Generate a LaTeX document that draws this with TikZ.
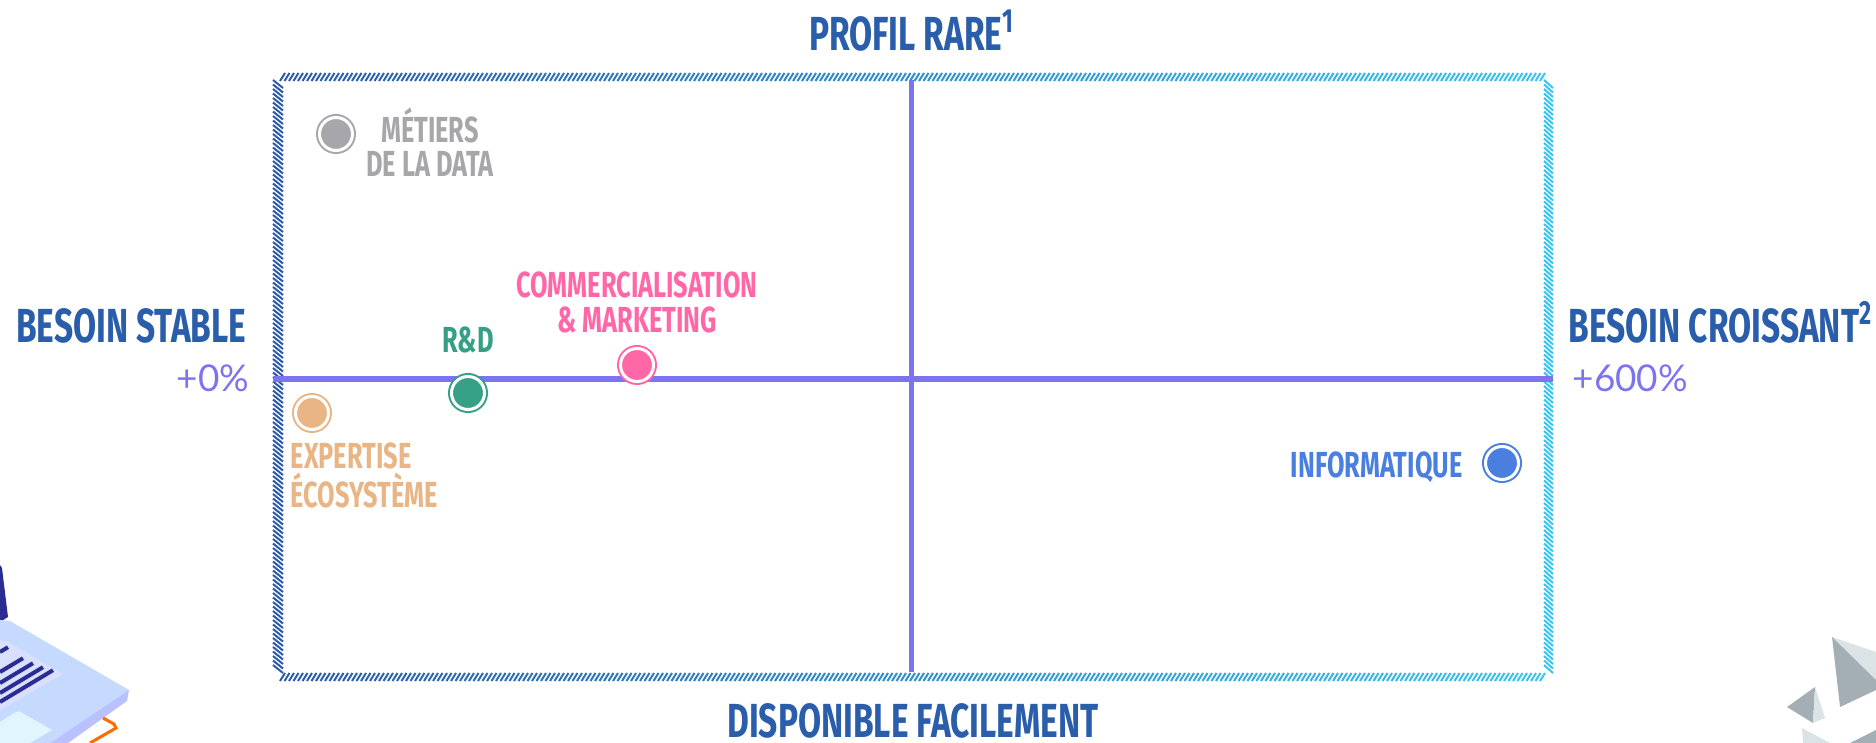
\documentclass[tikz,border=0pt]{standalone}
\usepackage{fontspec}
\newfontfamily\headfont[FakeStretch=0.7]{Fira Sans}
\newfontfamily\numfont{Lato}
\definecolor{titleblue}{HTML}{2A5DAA}
\definecolor{axispurple}{HTML}{7C73F0}
\definecolor{hatchL}{HTML}{2B5BA8}
\definecolor{hatchR}{HTML}{38C4F0}
\definecolor{datagray}{HTML}{A7A7AB}
\definecolor{rdgreen}{HTML}{36A086}
\definecolor{compink}{HTML}{FF67A7}
\definecolor{exptan}{HTML}{E9B584}
\definecolor{infoblue}{HTML}{4A7FE0}
\definecolor{navy}{HTML}{2B2C93}
\definecolor{padblue}{HTML}{C6DAFF}
\definecolor{rockL}{HTML}{DCE3E5}
\definecolor{rockD}{HTML}{A3AFB4}
\tikzset{
  axistitle/.style={text=titleblue, inner sep=0pt, font=\headfont\bfseries\fontsize{13.6}{14}\selectfont},
  sectortag/.style={inner sep=0pt, align=center, font=\headfont\bfseries\fontsize{10.3}{10}\selectfont},
  pct/.style={text=axispurple, inner sep=0pt, font=\numfont\fontsize{10.5}{11}\selectfont},
  spot/.style={circle, inner sep=0pt, minimum size=0.33cm, fill=#1, draw=#1, line width=0.02cm, double=white, double distance=0.03cm},
  hatch/.style={line width=0.02cm},
  axisline/.style={axispurple, line width=0.05cm},
}
\begin{document}
\begin{tikzpicture}[x=0.01cm,y=-0.01cm]
 \useasboundingbox (0,0) rectangle (1876,743);
 \clip (0,0) rectangle (1876,743);
 % hatched frame, dark blue on the left to cyan on the right
 \foreach \x in {280,284.5,...,1544} {
   \pgfmathtruncatemacro\t{100-(\x-280)/12.64}
   \draw[hatch,hatchL!\t!hatchR] (\x,81) -- ++(5,-8) (\x,681) -- ++(5,-8);
 }
 \foreach \y in {80,84.5,...,668} {
   \draw[hatch,hatchL] (273,\y) -- ++(10,8);
   \draw[hatch,hatchR] (1544,\y) -- ++(9,8);
 }
 % the two axes
 \coordinate (axW) at (273,379);
 \coordinate (axE) at (1553,379);
 \coordinate (axN) at (911,80);
 \coordinate (axS) at (911,672);
 \draw[axisline] (axW) -- (axE) (axN) -- (axS);
 % axis titles
 \node[axistitle,anchor=base] (rare) at (912,51) {PROFIL RARE\textsuperscript{1}};
 \node[axistitle,anchor=base] (easy) at (913,737) {DISPONIBLE FACILEMENT};
 \node[axistitle,anchor=base east] (stable) at (247,343) {BESOIN STABLE};
 \node[axistitle,anchor=base west] (growing) at (1568,343) {BESOIN CROISSANT\textsuperscript{2}};
 \node[pct,anchor=base east] (zero) at (250,392) {+0\%};
 \node[pct,anchor=base west] (six) at (1572,392) {+600\%};
 % sectors (base of a two-line tag = its last line)
 \node[spot=datagray] (data) at (336,134) {};
 \node[sectortag,text=datagray,anchor=base,font=\headfont\bfseries\fontsize{10.3}{9.7}\selectfont] (dataT) at (430,177) {MÉTIERS\\DE LA DATA};
 \node[spot=rdgreen] (rd) at (468,393) {};
 \node[sectortag,text=rdgreen,anchor=base] (rdT) at (468,353) {R\&D};
 \node[spot=compink] (com) at (637,365) {};
 \node[sectortag,text=compink,anchor=base] (comT) at (637,333) {COMMERCIALISATION\\\& MARKETING};
 \node[spot=exptan] (exp) at (312,413) {};
 \node[sectortag,text=exptan,align=left,anchor=base west] (expT) at (290,507) {EXPERTISE\\ÉCOSYSTÈME};
 \node[spot=infoblue] (info) at (1502,463) {};
 \node[sectortag,text=infoblue,anchor=base east] (infoT) at (1463,477) {INFORMATIQUE};
 % laptop in the corner
 \fill[navy] (0,565) -- (2,568) -- (8,617) -- (0,622) -- cycle;
 \fill[padblue] (0,620) -- (10,621) -- (129,690) -- (50,743) -- (0,743) -- cycle;
 \fill[padblue!70!blue!60] (129,690) -- (127,701) -- (68,743) -- (50,743) -- cycle;
 \fill[padblue!80!blue!40] (0,640) -- (8,642) -- (63,674) -- (0,710) -- cycle;
 \foreach \a/\b in {652/8,672/23,683/33,693/43,702/53}
   \draw[navy,line width=0.04cm] (0,\a) -- ++(\b,-0.6*\b);
 \fill[cyan!12] (14,713) -- (19,711) -- (52,730) -- (30,743) -- (0,743) -- (0,722) -- cycle;
 \draw[orange!85!red,line width=0.03cm] (103,718) -- (114,724) -- (116,728) -- (90,743);
 % rocks
 \fill[rockL] (1832,637) -- (1876,652) -- (1876,680) -- cycle;
 \fill[rockD] (1832,637) -- (1876,680) -- (1876,690) -- (1840,707) -- cycle;
 \fill[rockD] (1787,707) -- (1815,687) -- (1813,723) -- cycle;
 \fill[rockL] (1815,687) -- (1825,718) -- (1813,723) -- cycle;
 \fill[rockL] (1802,728) -- (1830,743) -- (1803,743) -- cycle;
 \fill[rockD] (1850,743) -- (1876,730) -- (1876,743) -- cycle;
\end{tikzpicture}
\end{document}
